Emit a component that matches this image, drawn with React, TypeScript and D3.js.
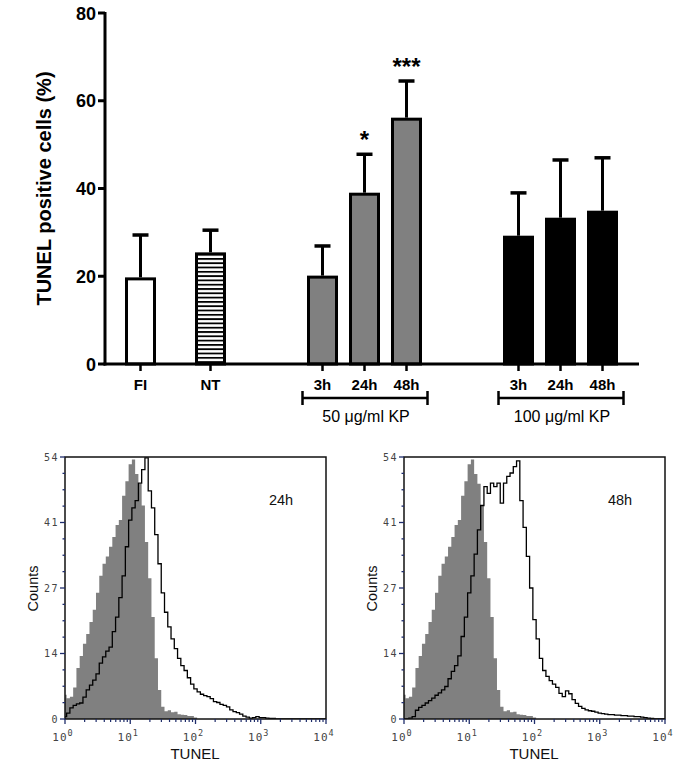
import React from 'react';
import * as d3 from 'd3';

// ---------- Bar chart data ----------
const barCategories = ['FI', 'NT', '3h', '24h', '48h', '3h', '24h', '48h'];
const barGroups = ['FI', 'NT', 'KP50', 'KP50', 'KP50', 'KP100', 'KP100', 'KP100'];
const barMeans = [19.4, 25.1, 19.8, 38.7, 55.8, 28.9, 33.0, 34.6];
const barErrors = [10.0, 5.4, 7.1, 9.1, 8.7, 10.1, 13.5, 12.4];
const barStars = ['', '', '', '*', '***', '', '', ''];
const barYTicks = [0, 20, 40, 60, 80];
const bracketGroups = ['KP50', 'KP100'];
const bracketLabels = ['50 \u03bcg/ml KP', '100 \u03bcg/ml KP'];

// ---------- Flow cytometry histograms (bins every 0.05 decade from 10^0) ----------
const histYTickLabels = ['0', '14', '27', '41', '54'];
const histXDecades = [0, 1, 2, 3, 4];
const histPanelLabels = ['24h', '48h'];
const controlCounts = [5.0, 4.3, 4.6, 6.5, 10.5, 13, 15.5, 17.5, 20, 22.5, 26, 29.5, 32, 33.5, 35.5, 37.5, 40, 41, 46, 49, 52.5, 53.5, 50.5, 48.5, 44, 36.5, 29, 21, 12.5, 6, 2.5, 1.6, 1.8, 1.4, 1.5, 1.0, 0.9, 0.8, 0.6, 0.6, 0.3, 0];
const kp24Counts = [0.5, 1.2, 2.3, 2.8, 3.1, 3.3, 4.5, 6, 7, 8, 9.3, 11.5, 12.8, 14, 14.8, 18, 21, 25, 29.5, 35.5, 41, 43.5, 45, 48.6, 51.4, 53.8, 47, 43.5, 38, 32, 26, 22, 19, 16.5, 14.5, 12.5, 11, 10, 8.5, 7.2, 6.2, 5.6, 5.1, 4.8, 4.6, 4.2, 3.6, 3.4, 3.0, 2.8, 2.5, 1.9, 1.5, 1.3, 1.0, 0.6, 0.4, 0.2, 0.3, 0.5, 0.3, 0.3, 0.2, 0.1, 0.1, 0];
const kp48Counts = [0, 0, 0.2, 0.5, 1.8, 2.4, 2.8, 3.3, 3.8, 4.3, 4.9, 5.4, 6, 6.7, 8.3, 9.8, 11, 13, 17, 21, 26, 29.5, 34, 39, 44, 47.9, 46.5, 48.6, 47.9, 48.6, 44.5, 48.6, 50, 50.7, 52, 53.2, 45, 39.5, 33.5, 27, 20.5, 16.5, 12.5, 10, 8.8, 7.9, 7.2, 6.5, 5.3, 4.6, 5.8, 5.2, 4, 3.2, 2.6, 2.2, 1.9, 1.7, 1.6, 1.4, 1.2, 1.1, 1.0, 0.9, 0.9, 0.8, 0.8, 0.7, 0.7, 0.6, 0.6, 0.5, 0.5, 0.4, 0.3, 0.2, 0.1, 0];

// layout: slot index of each bar along the x axis
const slotIndex = [0, 5, 13, 16, 19, 27, 30, 33];
const BIN_STEP = 0.05;

const FONT = '"Liberation Sans", Arial, sans-serif';
const TICK_FONT = '"DejaVu Sans Mono", monospace';
const AXIS_BLUE = '#1f2d6b';

function fillFor(g: string) {
  if (g === 'FI') return '#ffffff';
  if (g === 'NT') return 'url(#stripes)';
  if (g === 'KP50') return '#808080';
  return '#000000';
}

function HistPanel({ x0, label, series }: { x0: number; label: string; series: number[] }) {
  const x1 = x0 + 261;
  const yTop = 457;
  const yBot = 719;
  const xs = d3.scaleLog().domain([1, 1e4]).range([x0, x1]);
  const ys = d3.scaleLinear().domain([0, 54]).range([yBot, yTop]);
  const toPts = (arr: number[]) => arr.map((v, i) => [xs(Math.pow(10, i * BIN_STEP)), ys(v)] as [number, number]);
  const ctrlPts = toPts(controlCounts);
  const area = d3.area<[number, number]>().x(d => d[0]).y0(yBot).y1(d => d[1]).curve(d3.curveStep);
  const linePts = toPts(series);
  linePts.push([x1, yBot]);
  const line = d3.line<[number, number]>().x(d => d[0]).y(d => d[1]).curve(d3.curveStep);
  const clipId = 'clip' + x0;

  const minorX: number[] = [];
  for (let d = 0; d < 4; d++) for (let k = 2; k <= 9; k++) minorX.push(xs(k * Math.pow(10, d)));
  const yTickN = 16;
  const yTicksAll = d3.range(yTickN + 1);

  return (
    <g>
      <defs>
        <clipPath id={clipId}>
          <rect x={x0} y={yTop - 2} width={x1 - x0} height={yBot - yTop + 2} />
        </clipPath>
      </defs>
      <g clipPath={`url(#${clipId})`}>
        <path d={area(ctrlPts) || ''} fill="#808080" />
        <path d={line(linePts) || ''} fill="none" stroke="#000" strokeWidth={1.3} />
      </g>
      <rect x={x0} y={yTop} width={x1 - x0} height={yBot - yTop} fill="none" stroke="#111" strokeWidth={1.5} />
      {yTicksAll.map(j => {
        const yy = yBot - (j * (yBot - yTop)) / yTickN;
        const major = j % 4 === 0;
        return <line key={'yt' + j} x1={x0 - (major ? 5 : 2.5)} x2={x0} y1={yy} y2={yy} stroke={AXIS_BLUE} strokeWidth={1.3} />;
      })}
      {histYTickLabels.map((t, i) => {
        const yy = yBot - (i * (yBot - yTop)) / 4;
        return (
          <text key={'yl' + i} x={x0 - 6} y={yy + 3.5} textAnchor="end" fontFamily={TICK_FONT} fontSize={10} letterSpacing={1.5} fill="#444">
            {t}
          </text>
        );
      })}
      {minorX.map((xx, i) => (
        <line key={'xm' + i} x1={xx} x2={xx} y1={yBot} y2={yBot + 3} stroke={AXIS_BLUE} strokeWidth={1.2} />
      ))}
      {histXDecades.map(d => (
        <line key={'xM' + d} x1={xs(Math.pow(10, d))} x2={xs(Math.pow(10, d))} y1={yBot} y2={yBot + 5} stroke={AXIS_BLUE} strokeWidth={1.3} />
      ))}
      {histXDecades.map(d => (
        <text key={'xl' + d} x={xs(Math.pow(10, d)) - 2} y={741} textAnchor="middle" fontFamily={TICK_FONT} fontSize={11} letterSpacing={1} fill="#444">
          10<tspan fontSize={8.5} dy={-5}>{d}</tspan>
        </text>
      ))}
      <text x={x0 + 130} y={759} textAnchor="middle" fontFamily={FONT} fontSize={15} fill="#111">TUNEL</text>
      <text transform={`translate(${x0 - 27.5},588.5) rotate(-90)`} textAnchor="middle" fontFamily={FONT} fontSize={14.5} fill="#111">Counts</text>
      <text x={x0 + 216} y={505} textAnchor="middle" fontFamily={FONT} fontSize={14.5} fill="#111">{label}</text>
    </g>
  );
}

export default function App() {
  const W = 680;
  const H = 766;
  const bx = d3.scaleLinear().domain([0, 33]).range([140.5, 602.5]);
  const by = d3.scaleLinear().domain([0, 80]).range([364, 13]);
  const axisX = 105;
  const axisRight = 639;
  const barW = 28;

  return (
    <svg width={W} height={H} style={{ position: 'absolute', left: 0, top: 0, background: '#fff' }}>
      <defs>
        <pattern id="stripes" width={6} height={4.3} patternUnits="userSpaceOnUse">
          <rect width={6} height={4.3} fill="#fff" />
          <rect y={0} width={6} height={1.8} fill="#000" />
        </pattern>
      </defs>
      <rect width={W} height={H} fill="#fff" />

      {barMeans.map((m, i) => {
        const cx = bx(slotIndex[i]);
        return (
          <rect key={'b' + i} x={cx - barW / 2} y={by(m)} width={barW} height={by(0) - by(m)} fill={fillFor(barGroups[i])} stroke="#000" strokeWidth={3} />
        );
      })}
      {barMeans.map((m, i) => {
        const cx = bx(slotIndex[i]);
        const top = by(m + barErrors[i]);
        return (
          <g key={'e' + i}>
            <line x1={cx} x2={cx} y1={by(m) - 1.5} y2={top} stroke="#000" strokeWidth={3} />
            <line x1={cx - 8} x2={cx + 8} y1={top} y2={top} stroke="#000" strokeWidth={3.5} />
          </g>
        );
      })}
      {barStars.map((s, i) =>
        s ? (
          <text key={'s' + i} x={bx(slotIndex[i])} y={by(barMeans[i] + barErrors[i]) - 6} textAnchor="middle" fontFamily={FONT} fontWeight="bold" fontSize={24}>
            {s}
          </text>
        ) : null
      )}

      <line x1={axisX} x2={axisX} y1={by(80) - 1} y2={by(0) + 1.5} stroke="#000" strokeWidth={3} />
      <line x1={axisX - 1.5} x2={axisRight} y1={by(0)} y2={by(0)} stroke="#000" strokeWidth={3} />
      {barYTicks.map(t => (
        <g key={'yt' + t}>
          <line x1={axisX - 7} x2={axisX} y1={by(t)} y2={by(t)} stroke="#000" strokeWidth={3} />
          <text x={axisX - 9} y={by(t) + 6.5} textAnchor="end" fontFamily={FONT} fontWeight="bold" fontSize={18}>
            {t}
          </text>
        </g>
      ))}
      {barCategories.map((c, i) => {
        const cx = bx(slotIndex[i]);
        return (
          <g key={'xt' + i}>
            <line x1={cx} x2={cx} y1={by(0)} y2={by(0) + 7} stroke="#000" strokeWidth={2.5} />
            <text x={cx} y={390} textAnchor="middle" fontFamily={FONT} fontWeight="bold" fontSize={15}>
              {c}
            </text>
          </g>
        );
      })}
      <text transform="translate(51,188.5) rotate(-90)" textAnchor="middle" fontFamily={FONT} fontWeight="bold" fontSize={20}>
        TUNEL positive cells (%)
      </text>

      {bracketGroups.map((g, gi) => {
        const idx = barGroups.map((bg, i) => (bg === g ? i : -1)).filter(i => i >= 0);
        const xa = bx(slotIndex[idx[0]]) - 20;
        const xb = bx(slotIndex[idx[idx.length - 1]]) + 21;
        return (
          <g key={'br' + g}>
            <line x1={xa} x2={xb} y1={398} y2={398} stroke="#000" strokeWidth={2.5} />
            <line x1={xa} x2={xa} y1={391} y2={405} stroke="#000" strokeWidth={2.5} />
            <line x1={xb} x2={xb} y1={391} y2={405} stroke="#000" strokeWidth={2.5} />
            <text x={(xa + xb) / 2 + 1} y={422} textAnchor="middle" fontFamily={FONT} fontSize={16}>
              {bracketLabels[gi]}
            </text>
          </g>
        );
      })}

      <HistPanel x0={65} label={histPanelLabels[0]} series={kp24Counts} />
      <HistPanel x0={404} label={histPanelLabels[1]} series={kp48Counts} />
    </svg>
  );
}
